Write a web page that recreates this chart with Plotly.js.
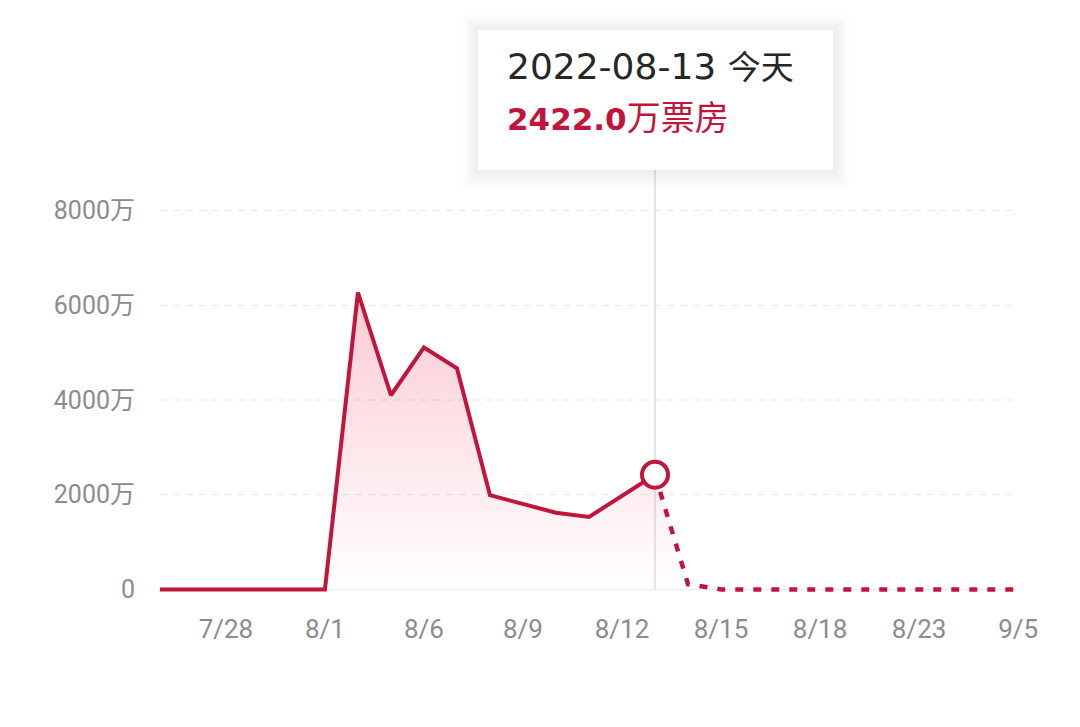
<!DOCTYPE html>
<html>
<head>
<meta charset="utf-8">
<script src="https://cdn.plot.ly/plotly-3.0.1.min.js"></script>
<style>
  html, body { margin: 0; padding: 0; background: #fff; }
  #chart { width: 1080px; height: 727px; }
</style>
</head>
<body>
<div id="chart"></div>
<script>
// box office (万) per day, x = day slot on the chart
var actualX = [0, 1, 2, 3, 4, 5, 6, 7, 8, 9, 10, 11, 12, 13, 14, 15];
var actual = [0, 0, 0, 0, 0, 0, 6270, 4100, 5110, 4670, 1990, 1800, 1620, 1530, 1980, 2422];

var forecastX = [15, 16, 17, 18, 19, 20, 21, 22, 23, 24, 25, 26];
var forecast = [2422, 110, 0, 0, 0, 0, 0, 0, 0, 0, 0, 0];

var tickPos = [2, 5, 8, 11, 14, 17, 20, 23, 26];
var tickText = ['7/28', '8/1', '8/6', '8/9', '8/12', '8/15', '8/18', '8/23', '9/5'];

var yTicks = [0, 2000, 4000, 6000, 8000];

var todayIdx = 15;
var todayDate = '2022-08-13';

var red = '#c2153c';
var grey = '#8c8c8c';

var L = 150, R = 52, T = 203, B = 130, H = 727;
var ph = H - T - B;
function paperY(py) { return (H - B - py) / ph; }

var grad = {
    type: 'vertical',
    start: 0,
    stop: 6270,
    colorscale: [[0, 'rgba(232,40,72,0)'], [1, 'rgba(232,40,72,0.24)']]
};

var actualTrace = {
    x: actualX,
    y: actual,
    type: 'scatter',
    mode: 'lines',
    line: { color: red, width: 4 },
    fill: 'tozeroy',
    fillgradient: grad
};

var forecastTrace = {
    x: forecastX,
    y: forecast,
    type: 'scatter',
    mode: 'lines',
    line: { color: red, width: 4.5, dash: '8px,10px' },
    fill: 'tozeroy',
    fillgradient: grad
};

var todayTrace = {
    x: [todayIdx],
    y: [actual[todayIdx]],
    type: 'scatter',
    mode: 'markers',
    marker: { size: 26, color: '#fff', line: { color: red, width: 4 } },
    cliponaxis: false
};

var shapes = [];
// dashed grid
yTicks.forEach(function (v) {
    shapes.push({
        type: 'line', xref: 'x', yref: 'y', layer: 'below',
        x0: 0, x1: 26, y0: v, y1: v,
        line: { color: v === 0 ? '#ececec' : '#e6e6e6', width: 1, dash: v === 0 ? 'solid' : '7px,6px' }
    });
});
// today marker line
shapes.push({
    type: 'line', xref: 'x', yref: 'paper', layer: 'below',
    x0: todayIdx, x1: todayIdx, y0: paperY(590), y1: paperY(170),
    line: { color: '#d6d6d6', width: 1.2 }
});
// tooltip soft shadow + box
[16, 14, 12, 10, 8, 6, 4, 2].forEach(function (s) {
    shapes.push({
        type: 'rect', xref: 'x', yref: 'paper', xsizemode: 'pixel', xanchor: todayIdx,
        x0: -177 - s, x1: 178 + s, y0: paperY(172 + s), y1: paperY(30 - s),
        fillcolor: 'rgba(0,0,0,0.007)', line: { width: 0 }
    });
});
shapes.push({
    type: 'rect', xref: 'x', yref: 'paper', xsizemode: 'pixel', xanchor: todayIdx,
    x0: -177, x1: 178, y0: paperY(170), y1: paperY(30),
    fillcolor: '#ffffff', line: { width: 0 }
});

var tipFont = '"DejaVu Sans", "Noto Sans CJK SC", sans-serif';
var annotations = [
    {
        xref: 'x', yref: 'paper', x: todayIdx, xshift: -150, xanchor: 'left',
        y: paperY(66), yanchor: 'middle', showarrow: false,
        text: todayDate + ' <span style="font-size:33px">今天</span>',
        font: { family: tipFont, size: 36, color: '#262626' }
    },
    {
        xref: 'x', yref: 'paper', x: todayIdx, xshift: -150, xanchor: 'left',
        y: paperY(118), yanchor: 'middle', showarrow: false,
        text: '<b>' + actual[todayIdx].toFixed(1) + '</b><span style="font-size:34px">万票房</span>',
        font: { family: tipFont, size: 31, color: red }
    }
];

var layout = {
    width: 1080,
    height: 727,
    margin: { l: L, r: R, t: T, b: B },
    paper_bgcolor: '#fff',
    plot_bgcolor: '#fff',
    showlegend: false,
    hovermode: false,
    font: { family: 'Roboto, "Noto Sans CJK SC", sans-serif', color: grey },
    xaxis: {
        range: [-0.3, 26.3],
        showgrid: false,
        zeroline: false,
        showline: false,
        tickmode: 'array',
        tickvals: tickPos,
        ticktext: tickText,
        ticks: '',
        ticklabelstandoff: 14,
        tickfont: { size: 26, color: grey }
    },
    yaxis: {
        range: [-160, 8160],
        showgrid: false,
        zeroline: false,
        showline: false,
        tickmode: 'array',
        tickvals: yTicks,
        ticktext: yTicks.map(function (v) { return v === 0 ? '0' : v + '万'; }),
        ticks: '',
        ticklabelstandoff: 14,
        tickfont: { size: 25, color: grey }
    },
    shapes: shapes,
    annotations: annotations
};

Plotly.newPlot('chart', [actualTrace, forecastTrace, todayTrace], layout, { displayModeBar: false, staticPlot: true });
</script>
</body>
</html>
